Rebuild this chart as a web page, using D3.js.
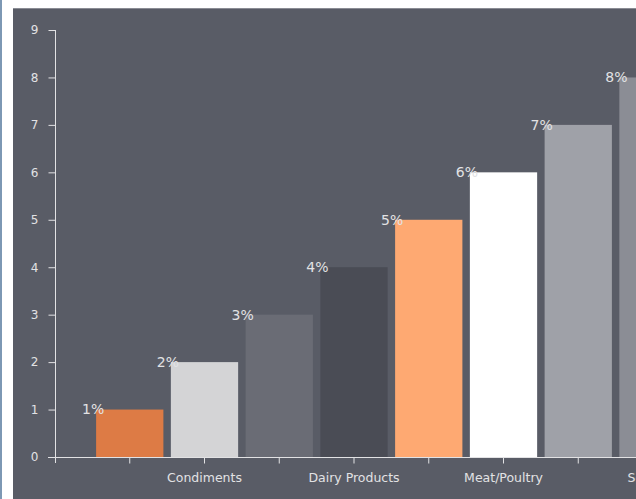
<!DOCTYPE html>
<html><head><meta charset="utf-8">
<script src="https://cdn.jsdelivr.net/npm/d3@7"></script>
<style>
html,body{margin:0;padding:0;background:#fff;overflow:hidden;}
svg{display:block;}
</style></head>
<body>
<svg id="chart" width="636" height="499"></svg>
<script>
const categories = ["Beverages","Condiments","Confections","Dairy Products","Grains/Cereals","Meat/Poultry","Produce","Seafood"];
const values = [1,2,3,4,5,6,7,8];
const pctLabels = ["1%","2%","3%","4%","5%","6%","7%","8%"];
const barColors = ["#dd7b45","#d4d4d6","#6a6c75","#4a4c55","#fea972","#ffffff","#9fa1a8","#8b8d95"];
const yTicks = [0,1,2,3,4,5,6,7,8,9];

const svg = d3.select("#chart");
// page decorations
svg.append("rect").attr("x",0).attr("y",0).attr("width",2).attr("height",499).attr("fill","#7d98b4");
svg.append("rect").attr("x",13).attr("y",8).attr("width",623).attr("height",491).attr("fill","#595c66");
svg.append("line").attr("x1",13).attr("x2",636).attr("y1",8.5).attr("y2",8.5).attr("stroke","#8a8c94").attr("stroke-width",1);

const axisColor = "#e2e2e4";
const textColor = "#e2e2e4";
const font = "DejaVu Sans, sans-serif";

const y = d3.scaleLinear().domain([0,9]).range([457,30]);
const x = d3.scaleBand().domain(categories).range([55, 727.75]).paddingInner(0.1).paddingOuter(0.55);

const g = svg.append("g");

// bars
g.selectAll("rect.bar").data(values).join("rect")
  .attr("class","bar")
  .attr("x",(d,i)=>x(categories[i]))
  .attr("y",d=>y(d))
  .attr("width",x.bandwidth())
  .attr("height",d=>y(0)-y(d))
  .attr("fill",(d,i)=>barColors[i]);

// value labels
g.selectAll("text.val").data(values).join("text")
  .attr("class","val")
  .attr("x",(d,i)=>x(categories[i]) - 3)
  .attr("y",d=>y(d))
  .attr("dy","0.35em")
  .attr("text-anchor","middle")
  .attr("fill",textColor)
  .style("font-family",font)
  .style("font-size","14px")
  .text((d,i)=>pctLabels[i]);

// y axis
const yAxis = g.append("g").attr("transform","translate(55.5,0)")
  .call(d3.axisLeft(y).tickValues(yTicks).tickSize(7).tickPadding(10).tickFormat(d3.format("d")));
yAxis.select(".domain").remove();
yAxis.append("line").attr("x1",0).attr("x2",0).attr("y1",y(9)).attr("y2",463).attr("stroke",axisColor);
yAxis.selectAll(".tick line").attr("stroke",axisColor);
yAxis.selectAll(".tick text").attr("fill",textColor).style("font-family",font).style("font-size","12px");

// x axis
const xAxis = g.append("g").attr("transform","translate(0,457.5)")
  .call(d3.axisBottom(x).tickSize(6).tickPadding(10).tickFormat((d,i)=> i%2===1 ? d : ""));
xAxis.select(".domain").remove();
xAxis.append("line").attr("x1",48).attr("x2",636).attr("y1",0).attr("y2",0).attr("stroke",axisColor);
xAxis.selectAll(".tick line").attr("stroke",axisColor);
xAxis.selectAll(".tick text").attr("fill",textColor).style("font-family",font).style("font-size","12.5px");
</script>
</body></html>
